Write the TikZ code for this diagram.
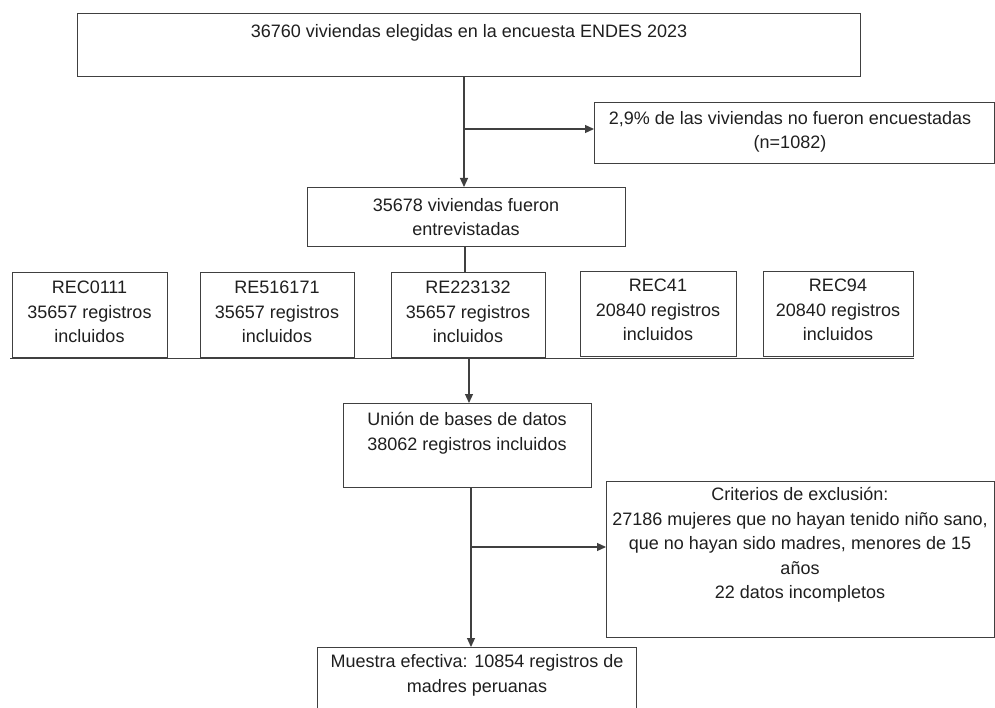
\documentclass[tikz,border=0pt]{standalone}
\usepackage{fontspec}
\setmainfont{Liberation Sans}
\usetikzlibrary{arrows.meta}
\begin{document}
\begin{tikzpicture}[x=1pt,y=-1pt,
  box/.style={draw=black!75, line width=1.2pt, inner sep=0pt, anchor=north west},
  txt/.style={align=center, font=\fontsize{18}{24.5}\selectfont, inner sep=0pt, text=black!88},
  conn/.style={draw=black!75, line width=1.2pt},
  arr/.style={conn, -{Triangle[length=9pt,width=8pt]}}]
\useasboundingbox (0,0) rectangle (995,708);
\clip (0,0) rectangle (995,708);
\fill[white] (0,0) rectangle (995,708);

% boxes
\node[box, minimum width=783pt, minimum height=63pt] (top) at (77,13) {};
\node[box, minimum width=400pt, minimum height=61pt] (nofue) at (594,102) {};
\node[box, minimum width=318pt, minimum height=59pt] (entre) at (307,187) {};
\node[box, minimum width=155pt, minimum height=85pt] (r1) at (12,272) {};
\node[box, minimum width=154pt, minimum height=85pt] (r2) at (200,272) {};
\node[box, minimum width=154pt, minimum height=85pt] (r3) at (391,272) {};
\node[box, minimum width=156pt, minimum height=85pt] (r4) at (580,271) {};
\node[box, minimum width=150pt, minimum height=85pt] (r5) at (763,271) {};
\node[box, minimum width=248pt, minimum height=84pt] (union) at (343,403) {};
\node[box, minimum width=388pt, minimum height=156pt] (crit) at (606,481) {};
\node[box, minimum width=319pt, minimum height=75pt] (muestra) at (317,647) {};

% texts
\node[txt] (toptxt) at (469,33) {36760 viviendas elegidas en la encuesta ENDES 2023};
\node[txt] (nofuetxt) at (790,132) {2,9\% de las viviendas no fueron encuestadas\\(n=1082)};
\node[txt] (entretxt) at (466,217) {35678 viviendas fueron\\entrevistadas};
\node[txt] (r1txt) at (89.5,312) {REC0111\\35657 registros\\incluidos};
\node[txt] (r2txt) at (277,312) {RE516171\\35657 registros\\incluidos};
\node[txt] (r3txt) at (468,312) {RE223132\\35657 registros\\incluidos};
\node[txt] (r4txt) at (658,310) {REC41\\20840 registros\\incluidos};
\node[txt] (r5txt) at (838,310) {REC94\\20840 registros\\incluidos};
\node[txt] (uniontxt) at (467,433) {Unión de bases de datos\\38062 registros incluidos};
\node[txt] (crittxt) at (800,545) {Criterios de exclusión:\\27186 mujeres que no hayan tenido niño sano,\\que no hayan sido madres, menores de 15\\años\\22 datos incompletos};
\node[txt] (muestratxt) at (477,675.5) {Muestra efectiva: 10854 registros de\\madres peruanas};

% junction points
\coordinate (j1) at (464,129);
\coordinate (j2) at (469,357);
\coordinate (j3) at (471,547);

% connectors
\draw[arr] (top.south -| j1) -- (entre.north -| j1);
\draw[arr] (j1) -- (nofue.west |- j1);
\draw[conn] (entre.south -| 465,0) -- (r3.north -| 465,0);
\draw[conn] (r1.south west) ++(-2,0) -- (r5.south east |- r1.south west);
\draw[arr] (j2) -- (union.north -| j2);
\draw[arr] (union.south -| j3) -- (muestra.north -| j3);
\draw[arr] (j3) -- (crit.west |- j3);
\end{tikzpicture}
\end{document}
